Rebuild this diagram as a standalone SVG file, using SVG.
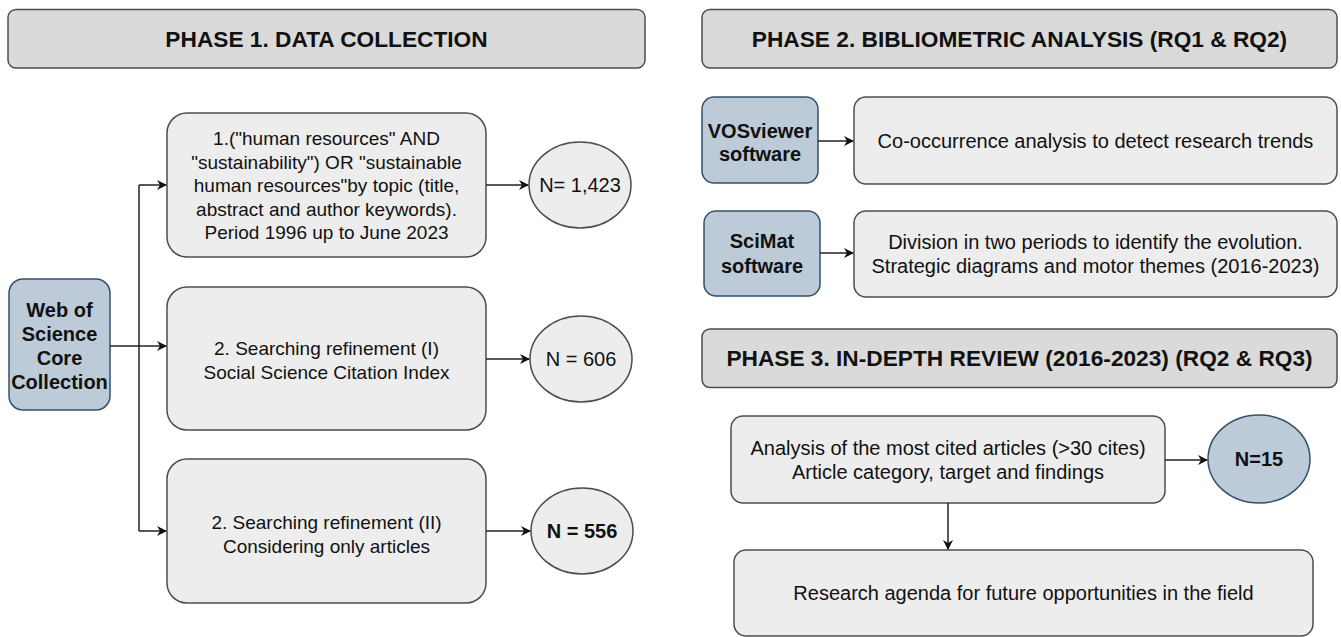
<svg xmlns="http://www.w3.org/2000/svg" width="1341" height="637" viewBox="0 0 1341 637">
<defs>
<marker id="arr" viewBox="0 0 10 10" refX="9" refY="5" markerWidth="10" markerHeight="10" markerUnits="userSpaceOnUse" orient="auto">
<path d="M0,0 L10,5 L0,10 L3,5 z" fill="#111"/>
</marker>
<style>
.hdr{fill:#dadada;stroke:#4d4d4d;stroke-width:1.5}
.box{fill:#ededed;stroke:#4d4d4d;stroke-width:1.5}
.blue{fill:#bccbd7;stroke:#34506a;stroke-width:1.5}
.ht{font-family:"Liberation Sans",Arial,sans-serif;font-weight:bold;font-size:22.7px;fill:#111;text-anchor:middle}
.t{font-family:"Liberation Sans",Arial,sans-serif;font-size:20px;fill:#111;text-anchor:middle}
.ts{font-family:"Liberation Sans",Arial,sans-serif;font-size:19px;fill:#111;text-anchor:middle}
.tb{font-family:"Liberation Sans",Arial,sans-serif;font-weight:bold;font-size:20px;fill:#111;text-anchor:middle}
.c{fill:none;stroke:#222;stroke-width:1.5}
</style>
</defs>
<rect width="1341" height="637" fill="#fff"/>

<g id="phase1">
<rect class="hdr" x="8" y="9.5" width="637" height="58.5" rx="8"/>
<text class="ht" x="326.5" y="47">PHASE 1. DATA COLLECTION</text>
</g>
<g id="phase2">
<rect class="hdr" x="702" y="9.5" width="635" height="58.5" rx="8"/>
<text class="ht" x="1019.5" y="47">PHASE 2. BIBLIOMETRIC ANALYSIS (RQ1 &amp; RQ2)</text>
</g>
<g id="phase3">
<rect class="hdr" x="702" y="329" width="635" height="58.5" rx="8"/>
<text class="ht" x="1019.5" y="366">PHASE 3. IN-DEPTH REVIEW (2016-2023) (RQ2 &amp; RQ3)</text>
</g>

<g id="wos">
<rect class="blue" x="9" y="279" width="101" height="131" rx="14"/>
<text class="tb" x="59.5" y="317">Web of</text>
<text class="tb" x="59.5" y="340.5">Science</text>
<text class="tb" x="59.5" y="364.5">Core</text>
<text class="tb" x="59.5" y="389">Collection</text>
</g>

<g id="step1">
<rect class="box" x="167" y="113" width="319" height="144" rx="20"/>
<text class="ts" x="326.5" y="145">1.("human resources" AND</text>
<text class="ts" x="326.5" y="168.5">"sustainability") OR "sustainable</text>
<text class="ts" x="326.5" y="192">human resources"by topic (title,</text>
<text class="ts" x="326.5" y="215.5">abstract and author keywords).</text>
<text class="ts" x="326.5" y="239">Period 1996 up to June 2023</text>
</g>
<g id="n1423">
<ellipse class="box" cx="580" cy="185" rx="51" ry="43"/>
<text class="t" x="580" y="192">N= 1,423</text>
</g>

<g id="step2">
<rect class="box" x="167" y="287" width="319" height="143" rx="20"/>
<text class="ts" x="326.5" y="355">2. Searching refinement (I)</text>
<text class="ts" x="326.5" y="379">Social Science Citation Index</text>
</g>
<g id="n606">
<ellipse class="box" cx="581" cy="359" rx="51" ry="43"/>
<text class="t" x="581" y="366">N = 606</text>
</g>

<g id="step3">
<rect class="box" x="167" y="459" width="319" height="144" rx="20"/>
<text class="ts" x="326.5" y="529">2. Searching refinement (II)</text>
<text class="ts" x="326.5" y="553">Considering only articles</text>
</g>
<g id="n556">
<ellipse class="box" cx="582" cy="531" rx="51" ry="43"/>
<text class="tb" x="582" y="538">N = 556</text>
</g>

<g id="vos">
<rect class="blue" x="702" y="97" width="116" height="86" rx="12"/>
<text class="tb" x="760" y="137.5">VOSviewer</text>
<text class="tb" x="760" y="161">software</text>
</g>
<g id="cooc">
<rect class="box" x="854" y="97" width="483" height="87" rx="12"/>
<text class="t" x="1095.5" y="148">Co-occurrence analysis to detect research trends</text>
</g>
<g id="scimat">
<rect class="blue" x="704" y="211" width="116" height="85" rx="12"/>
<text class="tb" x="762" y="248">SciMat</text>
<text class="tb" x="762" y="273">software</text>
</g>
<g id="division">
<rect class="box" x="854" y="211" width="483" height="86" rx="12"/>
<text class="t" x="1095.5" y="248.5">Division in two periods to identify the evolution.</text>
<text class="t" x="1095.5" y="272.5">Strategic diagrams and motor themes (2016-2023)</text>
</g>

<g id="analysis">
<rect class="box" x="731" y="416" width="434" height="87" rx="12"/>
<text class="t" x="948" y="455">Analysis of the most cited articles (&gt;30 cites)</text>
<text class="t" x="948" y="479">Article category, target and findings</text>
</g>
<g id="n15">
<ellipse class="blue" cx="1259" cy="459" rx="51" ry="44"/>
<text class="tb" x="1259" y="466">N=15</text>
</g>
<g id="agenda">
<rect class="box" x="734" y="550" width="579" height="86" rx="12"/>
<text class="t" x="1023.5" y="600">Research agenda for future opportunities in the field</text>
</g>

<g id="connectors">
<path class="c" d="M110,346 H139"/>
<path class="c" d="M139,185 V531"/>
<path class="c" d="M139,185 H166" marker-end="url(#arr)"/>
<path class="c" d="M139,346 H166" marker-end="url(#arr)"/>
<path class="c" d="M139,531 H166" marker-end="url(#arr)"/>
<path class="c" d="M486,185 H528" marker-end="url(#arr)"/>
<path class="c" d="M486,359 H529" marker-end="url(#arr)"/>
<path class="c" d="M486,531 H530" marker-end="url(#arr)"/>
<path class="c" d="M818,141 H853" marker-end="url(#arr)"/>
<path class="c" d="M820,253 H853" marker-end="url(#arr)"/>
<path class="c" d="M1165,460 H1207" marker-end="url(#arr)"/>
<path class="c" d="M948,503 V549" marker-end="url(#arr)"/>
</g>
</svg>
